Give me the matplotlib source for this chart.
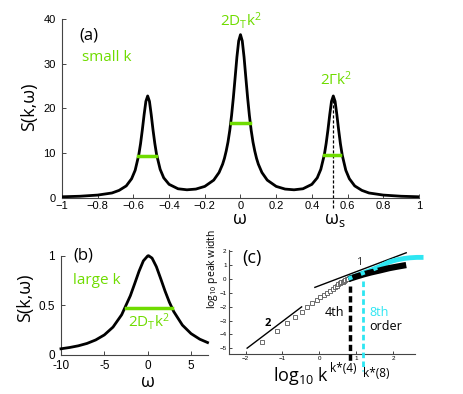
import matplotlib
matplotlib.use('Agg')
import matplotlib.pyplot as plt

plt.rcParams['font.family'] = ['Open Sans', 'DejaVu Sans']
plt.rcParams['mathtext.fontset'] = 'custom'
plt.rcParams['mathtext.rm'] = 'Open Sans'
plt.rcParams['mathtext.it'] = 'Open Sans:italic'

GREEN = '#6fdc00'
CYAN = '#2ee6f2'
TICKFONT = 'Liberation Sans'

# (a) small k: three peaks
w_a = [-1.0, -0.9, -0.8, -0.72, -0.68, -0.64, -0.61, -0.59, -0.57, -0.56, -0.55, -0.54, -0.53,
       -0.52, -0.51, -0.50, -0.49, -0.48, -0.47, -0.45, -0.43, -0.40, -0.35, -0.30, -0.25,
       -0.20, -0.15, -0.12, -0.10, -0.09, -0.08, -0.07, -0.06, -0.05, -0.04, -0.03, -0.02,
       -0.01, 0.0, 0.01, 0.02, 0.03, 0.04, 0.05, 0.06, 0.07, 0.08, 0.09, 0.10, 0.12, 0.15,
       0.20, 0.25, 0.30, 0.35, 0.40, 0.43, 0.45, 0.47, 0.48, 0.49, 0.50, 0.51, 0.52, 0.53,
       0.54, 0.55, 0.56, 0.57, 0.59, 0.61, 0.64, 0.68, 0.72, 0.80, 0.90, 1.0]
s_a = [0.27, 0.39, 0.65, 1.12, 1.7, 2.7, 4.3, 6.2, 9.6, 12.1, 15.2, 18.6, 21.6,
       22.8, 21.6, 18.6, 15.2, 12.2, 9.7, 6.4, 4.5, 3.05, 2.06, 1.83, 1.99,
       2.59, 3.99, 5.70, 7.56, 8.85, 10.5, 12.5, 15.1, 18.4, 22.4, 26.9, 31.5,
       35.1, 36.5, 35.1, 31.5, 26.9, 22.4, 18.4, 15.1, 12.5, 10.5, 8.85, 7.56, 5.70, 3.99,
       2.59, 1.99, 1.83, 2.06, 3.05, 4.5, 6.4, 9.7, 12.2, 15.2, 18.6, 21.6, 22.8, 21.6,
       18.6, 15.2, 12.1, 9.6, 6.2, 4.3, 2.7, 1.7, 1.12, 0.65, 0.39, 0.27]
# half-width bars (x0, x1, level)
bars_a = [(-0.575, -0.475, 9.4), (-0.055, 0.052, 16.7), (0.468, 0.558, 9.7)]
w_s = 0.52
s_peak = 22.6
xt_a = [-1, -0.8, -0.6, -0.4, -0.2, 0, 0.2, 0.4, 0.6, 0.8, 1]
xl_a = ['\u22121', '\u22120.8', '\u22120.6', '\u22120.4', '\u22120.2', '0', '0.2', '0.4', '0.6', '0.8', '1']
yt_a = [0, 10, 20, 30, 40]

# (b) large k: one broad peak
w_b = [-10, -9, -8, -7, -6, -5, -4, -3, -2, -1.5, -1, -0.5, 0, 0.1, 0.5, 1, 1.5, 2, 2.5,
       3, 4, 5, 6, 6.9]
s_b = [0.060, 0.073, 0.090, 0.114, 0.149, 0.200, 0.279, 0.404, 0.596, 0.718, 0.843, 0.948,
       0.998, 1.0, 0.976, 0.889, 0.768, 0.643, 0.530, 0.436, 0.299, 0.213, 0.157, 0.123]
bar_b = (-2.5, 2.8, 0.47)

# (c) log10 peak width vs log10 k
lk_sq = [-1.56, -1.16, -0.89, -0.66, -0.48, -0.33, -0.19, -0.07, 0.02, 0.13, 0.22, 0.29,
         0.36, 0.42, 0.47, 0.52, 0.56, 0.60, 0.64, 0.68, 0.71, 0.74, 0.77]
lw_sq = [-4.56, -3.73, -3.15, -2.72, -2.37, -2.05, -1.77, -1.53, -1.34, -1.17, -1.0, -0.86,
         -0.72, -0.6, -0.5, -0.41, -0.33, -0.26, -0.2, -0.14, -0.09, -0.05, -0.02]
lk_4 = [0.79, 1.0, 1.2, 1.4, 1.65, 1.9, 2.1, 2.36]
lw_4 = [-0.03, 0.15, 0.31, 0.45, 0.60, 0.76, 0.86, 0.98]
lk_8 = [0.79, 1.0, 1.2, 1.41, 1.63, 1.74, 1.9, 2.1, 2.3, 2.46, 2.65, 2.83]
lw_8 = [0.0, 0.22, 0.42, 0.62, 0.85, 1.0, 1.2, 1.35, 1.45, 1.5, 1.53, 1.53]
slope2 = ([-1.96, -0.48], [-4.98, -2.02])
slope1 = ([-0.12, 2.36], [-0.62, 1.86])
kstar4 = 0.83
kstar8 = 1.18
xt_c = [-2, -1, 0, 1, 2]
yt_c = [-5, -4, -3, -2, -1, 0, 1, 2]

fig = plt.figure(figsize=(4.63, 3.94), dpi=100)


def style(ax, fs, length=3, pad=2, ypad=None):
    for s in ['top', 'right']:
        ax.spines[s].set_visible(False)
    for s in ['left', 'bottom']:
        ax.spines[s].set_color('#444444')
        ax.spines[s].set_linewidth(0.8)
    ax.tick_params(direction='in', length=length, width=0.7, colors='#444444',
                   labelcolor='black', labelsize=fs, pad=pad)
    if ypad is not None:
        ax.tick_params(axis='y', pad=ypad)
    for lab in ax.get_xticklabels() + ax.get_yticklabels():
        lab.set_family(TICKFONT)


# ---- panel (a)
axA = fig.add_axes([0.1339, 0.4975, 0.771, 0.4543])
axA.plot(w_a, s_a, color='black', lw=2.0, solid_joinstyle='round', zorder=3)
for x0, x1, lev in bars_a:
    axA.plot([x0, x1], [lev, lev], color=GREEN, lw=2.5, zorder=4)
axA.plot([w_s, w_s], [-2.2, s_peak], color='black', lw=0.9, ls=(0, (2.5, 1.5)),
         clip_on=False, zorder=2)
axA.set_xlim(-1, 1)
axA.set_ylim(0, 40)
axA.set_xticks(xt_a)
axA.set_xticklabels(xl_a)
axA.set_yticks(yt_a)
style(axA, 8, pad=2.5, ypad=4.5)
axA.text(-0.9, 36.2, '(a)', fontsize=12, ha='left', va='center')
axA.text(-0.89, 31.3, 'small k', fontsize=11, color=GREEN, ha='left', va='center')
axA.text(0.003, 39.6, '2D$_\\mathrm{T}$k$^\\mathrm{2}$', fontsize=11, color=GREEN,
         ha='center', va='center', clip_on=False)
axA.text(0.535, 26.4, '2\u0393k$^\\mathrm{2}$', fontsize=11, color=GREEN,
         ha='center', va='center')
fig.text(29 / 463, 1 - 107 / 394, 'S(k,\u03c9)', fontsize=13, rotation=90,
         ha='center', va='center')
fig.text(240 / 463, 1 - 219 / 394, '\u03c9', fontsize=13, ha='center', va='center')
fig.text(335 / 463, 1 - 220 / 394, '\u03c9$_\\mathrm{s}$', fontsize=13,
         ha='center', va='center')

# ---- panel (b)
axB = fig.add_axes([0.1317, 0.0997, 0.3175, 0.2513])
axB.plot(w_b, s_b, color='black', lw=2.0, clip_on=False, zorder=3)
axB.plot([bar_b[0], bar_b[1]], [bar_b[2], bar_b[2]], color=GREEN, lw=2.5, zorder=4)
axB.set_xlim(-10, 6.95)
axB.set_ylim(0, 1)
axB.set_xticks([-10, -5, 0, 5])
axB.set_xticklabels(['-10', '-5', '0', '5'])
axB.set_yticks([0, 0.5, 1])
axB.set_yticklabels(['0', '0.5', '1'])
style(axB, 8.5, pad=3.5, ypad=4.5)
axB.text(-8.6, 1.0, '(b)', fontsize=12, ha='left', va='center', clip_on=False)
axB.text(-5.9, 0.75, 'large k', fontsize=11, color=GREEN, ha='center', va='center')
axB.text(0.1, 0.34, '2D$_\\mathrm{T}$k$^\\mathrm{2}$', fontsize=11, color=GREEN,
         ha='center', va='center')
fig.text(25 / 463, 1 - 298 / 394, 'S(k,\u03c9)', fontsize=13, rotation=90,
         ha='center', va='center')
fig.text(148 / 463, 1 - 382 / 394, '\u03c9', fontsize=13, ha='center', va='center')

# ---- panel (c)
axC = fig.add_axes([0.494, 0.1008, 0.4024, 0.2647])
axC.plot(slope2[0], slope2[1], color='black', lw=1.0, zorder=3)
axC.plot(slope1[0], slope1[1], color='black', lw=1.0, zorder=3)
axC.plot(lk_sq, lw_sq, ls='none', marker='s', ms=3.2, mfc='white', mec='#555555',
         mew=0.6, zorder=4)
axC.plot(lk_8, lw_8, color=CYAN, lw=3.5, solid_capstyle='butt', clip_on=False, zorder=5)
axC.plot(lk_4, lw_4, color='black', lw=4.5, solid_capstyle='butt', zorder=6)
axC.plot(lk_8[:5], lw_8[:5], color=CYAN, lw=3.0, ls=(0, (1, 2.2)), zorder=7)
axC.plot([kstar4, kstar4], [-0.52, -6.0], color='black', lw=2.5, ls=(0, (1.8, 1.0)),
         clip_on=False, zorder=3)
axC.plot([kstar8, kstar8], [-0.17, -6.6], color=CYAN, lw=2.0, ls=(0, (2.0, 1.2)),
         clip_on=False, zorder=3)
axC.set_xlim(-2.46, 2.6)
axC.set_ylim(-5.42, 2.06)
axC.set_xticks(xt_c)
axC.set_yticks(yt_c)
style(axC, 4.5, length=2, pad=1.5)
axC.text(-2.1, 1.45, '(c)', fontsize=13, ha='left', va='center')
axC.text(-1.39, -3.2, '2', fontsize=8, fontweight='bold', ha='center', va='center')
axC.text(1.09, 1.15, '1', fontsize=8, color='#333333', ha='center', va='center')
axC.text(0.4, -2.45, '4th', fontsize=9, ha='center', va='center')
axC.text(1.37, -2.45, '8th', fontsize=9, color=CYAN, ha='left', va='center')
axC.text(1.37, -3.44, 'order', fontsize=9, ha='left', va='center')
axC.text(0.66, -6.45, 'k*(4)', fontsize=8.5, ha='center', va='center', clip_on=False)
axC.text(1.55, -6.8, 'k*(8)', fontsize=8.5, ha='center', va='center', clip_on=False)
fig.text(301 / 463, 1 - 376 / 394, 'log$_\\mathrm{10}$ k', fontsize=13,
         ha='center', va='center')
fig.text(213 / 463, 1 - 269 / 394, 'log$_\\mathrm{10}$ peak width', fontsize=7.5,
         rotation=90, ha='center', va='center')

fig.savefig('out.png', dpi=100)
